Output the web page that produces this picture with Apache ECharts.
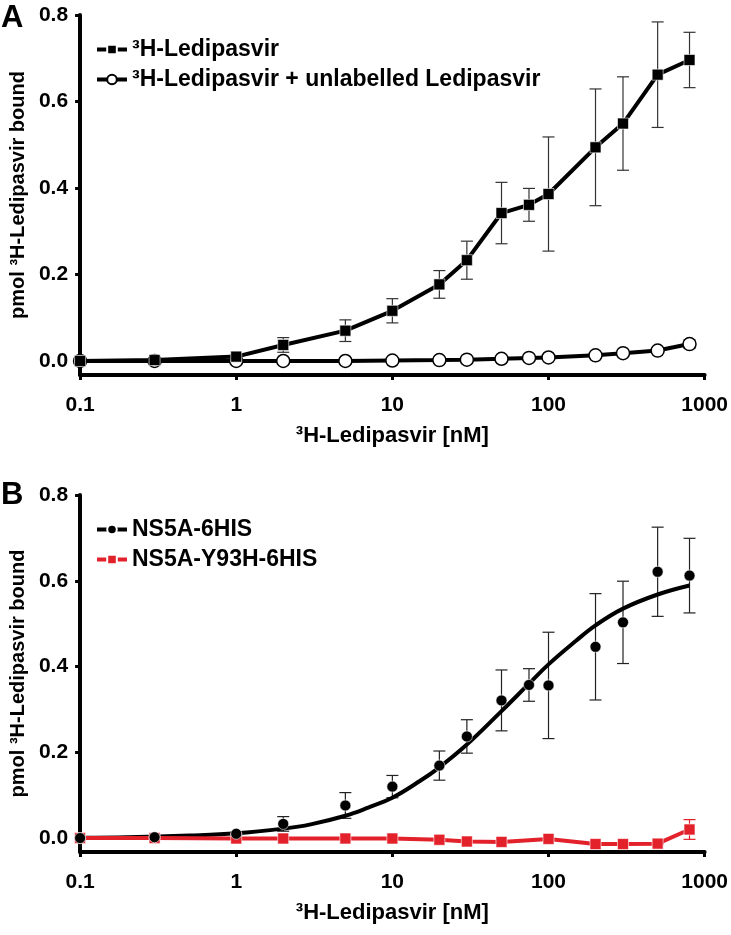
<!DOCTYPE html>
<html>
<head>
<meta charset="utf-8">
<script src="https://cdn.jsdelivr.net/npm/echarts@6/dist/echarts.min.js"></script>
<style>
html,body{margin:0;padding:0;background:#fff;}
#chart{width:731px;height:935px;}
</style>
</head>
<body>
<div id="chart"></div>
<script>
// ---------- data ----------
const xTickLabels = ['0.1', '1', '10', '100', '1000'];
const yTickValues = [0, 0.2, 0.4, 0.6, 0.8];

// Panel A
const concA = [0.1, 0.3, 1, 2, 5, 10, 20, 30, 50, 75, 100, 200, 300, 500, 800];
const totalMean = [0.000, 0.002, 0.010, 0.037, 0.070, 0.116, 0.177, 0.233, 0.342, 0.361, 0.386, 0.494, 0.549, 0.662, 0.696];
const totalSD   = [0.000, 0.002, 0.004, 0.017, 0.025, 0.028, 0.032, 0.044, 0.071, 0.038, 0.132, 0.135, 0.108, 0.122, 0.064];
const nsbMean   = [0.000, 0.000, 0.000, 0.000, 0.000, 0.001, 0.002, 0.003, 0.005, 0.007, 0.008, 0.013, 0.018, 0.024, 0.039];
const nsbSD     = [0.000, 0.000, 0.001, 0.001, 0.001, 0.001, 0.001, 0.002, 0.002, 0.002, 0.002, 0.003, 0.003, 0.004, 0.010];

// Panel B
const concB = [0.1, 0.3, 1, 2, 5, 10, 20, 30, 50, 75, 100, 200, 300, 500, 800];
const wtMean = [0.000, 0.002, 0.010, 0.033, 0.076, 0.120, 0.169, 0.237, 0.321, 0.357, 0.356, 0.446, 0.503, 0.621, 0.612];
const wtSD   = [0.000, 0.001, 0.003, 0.017, 0.030, 0.026, 0.034, 0.039, 0.071, 0.038, 0.124, 0.124, 0.096, 0.104, 0.087];
const concMut = [0.1, 0.3, 1, 2, 5, 10, 20, 30, 50, 100, 200, 300, 500, 800];
const mutMean = [0.000, 0.000, -0.001, -0.001, -0.001, -0.001, -0.004, -0.008, -0.009, -0.002, -0.014, -0.014, -0.013, 0.020];
const mutSD   = [0.000, 0.000, 0.001, 0.001, 0.001, 0.001, 0.001, 0.001, 0.001, 0.001, 0.001, 0.001, 0.001, 0.023];
// fitted curve for NS5A-6HIS
const fitX = [0.1, 0.2, 0.5, 1, 2, 3, 5, 7, 10, 15, 20, 30, 50, 75, 100, 150, 200, 300, 500, 800];
const fitY = [0.001, 0.002, 0.006, 0.011, 0.022, 0.032, 0.052, 0.071, 0.094, 0.133, 0.165, 0.218, 0.296, 0.360, 0.405, 0.460, 0.496, 0.535, 0.568, 0.589];

// ---------- helpers ----------
const FONT = 'Liberation Sans, Arial, Helvetica, sans-serif';
const RED = '#e3212b';
const YMIN = -0.0325;
const pairs = (xs, ys) => xs.map((x, i) => [x, ys[i]]);
const errData = (xs, m, s) => xs.map((x, i) => [x, m[i] - s[i], m[i] + s[i]]).filter((d, i) => s[i] > 0);

function errRender(color) {
  return function (params, api) {
    const x = api.value(0);
    const top = api.coord([x, api.value(2)]);
    const bot = api.coord([x, api.value(1)]);
    const w = 6;
    const st = { stroke: color, lineWidth: 1.2 };
    return {
      type: 'group',
      children: [
        { type: 'line', shape: { x1: top[0], y1: top[1], x2: bot[0], y2: bot[1] }, style: st },
        { type: 'line', shape: { x1: top[0] - w, y1: top[1], x2: top[0] + w, y2: top[1] }, style: st },
        { type: 'line', shape: { x1: bot[0] - w, y1: bot[1], x2: bot[0] + w, y2: bot[1] }, style: st }
      ]
    };
  };
}

function xAxisCfg(gridIndex) {
  return {
    type: 'log', logBase: 10, gridIndex, min: 0.1, max: 1000,
    name: '³H-Ledipasvir [nM]', nameLocation: 'middle', nameGap: 50,
    nameTextStyle: { fontFamily: FONT, fontWeight: 'bold', fontSize: 22, color: '#000' },
    axisLine: { onZero: false, lineStyle: { color: '#000', width: 4 } },
    axisTick: { show: true, inside: false, length: 5, lineStyle: { color: '#000', width: 3 } },
    minorTick: { show: false },
    splitLine: { show: false },
    axisLabel: {
      margin: 20, fontFamily: FONT, fontWeight: 'bold', fontSize: 21, color: '#000',
      formatter: v => {
        const idx = Math.round(Math.log10(v)) + 1;
        return xTickLabels[idx] !== undefined ? xTickLabels[idx] : '';
      }
    }
  };
}
function yAxisCfg(gridIndex) {
  return {
    type: 'value', gridIndex, min: YMIN, max: 0.8,
    name: 'pmol ³H-Ledipasvir bound', nameLocation: 'middle', nameGap: 50, nameRotate: 90,
    nameTextStyle: { fontFamily: FONT, fontWeight: 'bold', fontSize: 20, color: '#000' },
    axisLine: { show: true, onZero: false, lineStyle: { color: '#000', width: 4 } },
    axisTick: { show: true, inside: false, length: 5, customValues: yTickValues, lineStyle: { color: '#000', width: 3 } },
    splitLine: { show: false },
    axisLabel: {
      margin: 12, fontFamily: FONT, fontWeight: 'bold', fontSize: 21, color: '#000',
      customValues: yTickValues, formatter: v => v.toFixed(1)
    }
  };
}

const legendText = { fontFamily: FONT, fontWeight: 'bold', fontSize: 23, color: '#000' };

const chart = echarts.init(document.getElementById('chart'), null, { renderer: 'canvas' });
chart.setOption({
  animation: false,
  backgroundColor: '#fff',
  grid: [
    { left: 75, right: 21, top: 15, height: 360 },
    { left: 75, right: 21, top: 495, height: 357 }
  ],
  xAxis: [xAxisCfg(0), xAxisCfg(1)],
  yAxis: [yAxisCfg(0), yAxisCfg(1)],
  legend: [
    {
      left: 95, top: 38, orient: 'vertical', itemGap: 7, itemWidth: 30, itemHeight: 12, padding: 0,
      textStyle: legendText, lineStyle: { width: 4 },
      data: ['³H-Ledipasvir', '³H-Ledipasvir + unlabelled Ledipasvir']
    },
    {
      left: 95, top: 518, orient: 'vertical', itemGap: 7, itemWidth: 30, itemHeight: 12, padding: 0,
      textStyle: legendText, lineStyle: { width: 4 },
      data: [
        { name: 'NS5A-6HIS', lineStyle: { opacity: 1, width: 4, color: '#000' } },
        'NS5A-Y93H-6HIS'
      ]
    }
  ],
  graphic: [
    { type: 'text', left: 1, top: 3, style: { text: 'A', fontFamily: FONT, fontWeight: 'bold', fontSize: 31, fill: '#000' } },
    { type: 'text', left: 1, top: 480, style: { text: 'B', fontFamily: FONT, fontWeight: 'bold', fontSize: 31, fill: '#000' } }
  ],
  series: [
    // Panel A error bars
    { type: 'custom', xAxisIndex: 0, yAxisIndex: 0, z: 1, renderItem: errRender('#333'),
      encode: { x: 0, y: [1, 2] }, data: errData(concA, nsbMean, nsbSD), silent: true },
    { type: 'custom', xAxisIndex: 0, yAxisIndex: 0, z: 1, renderItem: errRender('#333'),
      encode: { x: 0, y: [1, 2] }, data: errData(concA, totalMean, totalSD), silent: true },
    {
      name: '³H-Ledipasvir + unlabelled Ledipasvir', type: 'line', xAxisIndex: 0, yAxisIndex: 0, z: 3,
      data: pairs(concA, nsbMean), symbol: 'circle', symbolSize: 13,
      lineStyle: { color: '#000', width: 4 },
      itemStyle: { color: '#fff', borderColor: '#000', borderWidth: 1.5 }
    },
    {
      name: '³H-Ledipasvir', type: 'line', xAxisIndex: 0, yAxisIndex: 0, z: 4,
      data: pairs(concA, totalMean), symbol: 'rect', symbolSize: 11,
      lineStyle: { color: '#000', width: 4 },
      itemStyle: { color: '#000', borderColor: '#fff', borderWidth: 0.6 }
    },
    // Panel B
    { type: 'custom', xAxisIndex: 1, yAxisIndex: 1, z: 1, renderItem: errRender('#222'),
      encode: { x: 0, y: [1, 2] }, data: errData(concB, wtMean, wtSD), silent: true },
    { type: 'custom', xAxisIndex: 1, yAxisIndex: 1, z: 1, renderItem: errRender(RED),
      encode: { x: 0, y: [1, 2] }, data: errData(concMut, mutMean, mutSD), silent: true },
    {
      name: 'fit', type: 'line', xAxisIndex: 1, yAxisIndex: 1, z: 2,
      data: pairs(fitX, fitY), symbol: 'none', smooth: 0.4,
      lineStyle: { color: '#000', width: 4 }
    },
    {
      name: 'NS5A-Y93H-6HIS', type: 'line', xAxisIndex: 1, yAxisIndex: 1, z: 3,
      data: pairs(concMut, mutMean), symbol: 'rect', symbolSize: 11,
      lineStyle: { color: RED, width: 4 },
      itemStyle: { color: RED, borderColor: '#fff', borderWidth: 0.6 }
    },
    {
      name: 'NS5A-6HIS', type: 'line', xAxisIndex: 1, yAxisIndex: 1, z: 4,
      data: pairs(concB, wtMean), symbol: 'circle', symbolSize: 11,
      lineStyle: { color: '#000', width: 3, opacity: 0 },
      itemStyle: { color: '#000', borderColor: '#fff', borderWidth: 0.6 }
    }
  ]
});
</script>
</body>
</html>
